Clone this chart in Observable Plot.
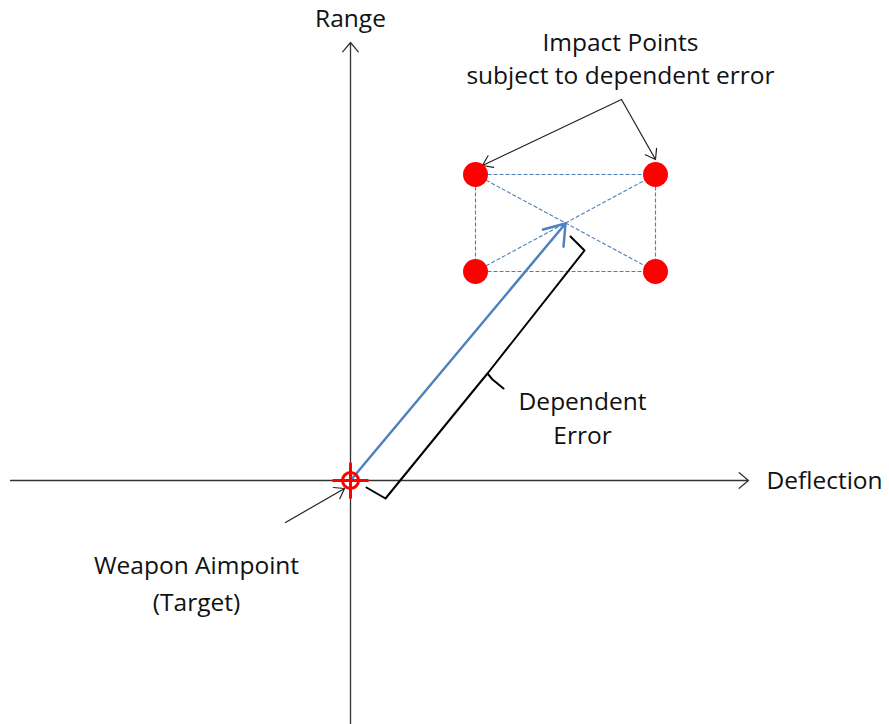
<!DOCTYPE html>
<html><head><meta charset="utf-8">
<script src="https://cdn.jsdelivr.net/npm/d3@7"></script>
<script src="https://cdn.jsdelivr.net/npm/@observablehq/plot@0.6"></script>
<style>body{margin:0;background:#fff}</style>
</head><body><div id="chart"></div>
<script>
// Diagram coordinates (in the diagram's own units)
const axes = [
  {x1: 350, y1: 724, x2: 350, y2: 42},   // Range axis
  {x1: 10, y1: 480, x2: 748, y2: 480}    // Deflection axis
];
const target = [{x: 350, y: 480}];
const impactPoints = [
  {x: 475, y: 174}, {x: 655, y: 174},
  {x: 475, y: 271}, {x: 655, y: 271}
];
const dashedLinks = [
  {x1: 475, y1: 174, x2: 655, y2: 174},
  {x1: 475, y1: 271, x2: 655, y2: 271},
  {x1: 475, y1: 174, x2: 475, y2: 271},
  {x1: 655, y1: 174, x2: 655, y2: 271},
  {x1: 475, y1: 174, x2: 655, y2: 271},
  {x1: 475, y1: 271, x2: 655, y2: 174}
];
const errorVector = [{x1: 350, y1: 480, x2: 565, y2: 223}];
const calloutArrows = [
  {x1: 621, y1: 99, x2: 482, y2: 165},
  {x1: 621, y1: 99, x2: 655, y2: 159},
  {x1: 285, y1: 522, x2: 344, y2: 488}
];
const braceUpper = [[570, 236], [584, 250], [487, 373], [492, 379], [503, 388]];
const braceLower = [[487, 373], [482, 379], [385, 498], [366, 487]];
const crossH = [[333, 480], [367, 480]];
const crossV = [[350, 463], [350, 497]];
const centerLabels = [
  {x: 350, y: 19, text: "Range"},
  {x: 620, y: 43, text: "Impact Points"},
  {x: 620, y: 76, text: "subject to dependent error"},
  {x: 582, y: 402, text: "Dependent"},
  {x: 582, y: 436, text: "Error"},
  {x: 196, y: 566, text: "Weapon Aimpoint"},
  {x: 196, y: 603, text: "(Target)"}
];
const startLabels = [
  {x: 766, y: 481, text: "Deflection"}
];

const font = "'Open Sans', 'Noto Sans', sans-serif";
const chart = Plot.plot({
  width: 889, height: 724,
  margin: 0,
  x: {domain: [0, 889], axis: null},
  y: {domain: [0, 724], reverse: true, axis: null},
  marks: [
    Plot.arrow(axes, {x1: "x1", y1: "y1", x2: "x2", y2: "y2", stroke: "#333", strokeWidth: 1.3, headLength: 14, headAngle: 80}),
    Plot.link(dashedLinks, {x1: "x1", y1: "y1", x2: "x2", y2: "y2", stroke: "#4a7ebb", strokeWidth: 1.1, strokeDasharray: "4,2"}),
    Plot.arrow(errorVector, {x1: "x1", y1: "y1", x2: "x2", y2: "y2", stroke: "#4f81bd", strokeWidth: 2.5, headLength: 14, headAngle: 70}),
    Plot.line(braceUpper, {x: d => d[0], y: d => d[1], stroke: "#000", strokeWidth: 2, strokeLinejoin: "round"}),
    Plot.line(braceLower, {x: d => d[0], y: d => d[1], stroke: "#000", strokeWidth: 2, strokeLinejoin: "round"}),
    Plot.arrow(calloutArrows, {x1: "x1", y1: "y1", x2: "x2", y2: "y2", stroke: "#222", strokeWidth: 1.2, headLength: 14, headAngle: 70}),
    Plot.dot(impactPoints, {x: "x", y: "y", r: 12.5, fill: "#ff0000", stroke: "none"}),
    Plot.line(crossH, {x: d => d[0], y: d => d[1], stroke: "#ff0000", strokeWidth: 3}),
    Plot.line(crossV, {x: d => d[0], y: d => d[1], stroke: "#ff0000", strokeWidth: 3}),
    Plot.dot(target, {x: "x", y: "y", r: 8, fill: "none", stroke: "#ff0000", strokeWidth: 3}),
    Plot.text(centerLabels, {x: "x", y: "y", text: "text", textAnchor: "middle", fontSize: 24.5, fontFamily: font, fill: "#111"}),
    Plot.text(startLabels, {x: "x", y: "y", text: "text", textAnchor: "start", fontSize: 24.5, fontFamily: font, fill: "#111"})
  ]
});
document.getElementById("chart").appendChild(chart);
</script>
</body></html>
